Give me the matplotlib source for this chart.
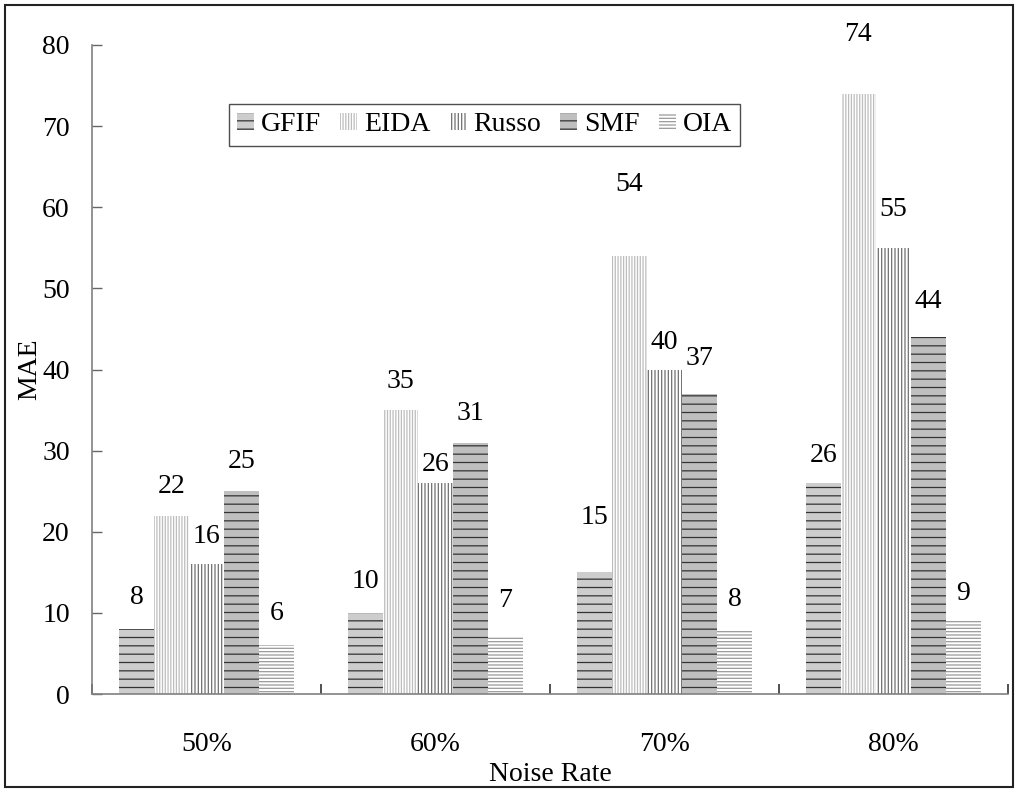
import matplotlib
matplotlib.use("Agg")
import matplotlib.pyplot as plt
import numpy as np
from matplotlib.patches import Rectangle

categories = ["50%", "60%", "70%", "80%"]
methods = ["GFIF", "EIDA", "Russo", "SMF", "OIA"]
GFIF = [8, 10, 15, 26]
EIDA = [22, 35, 54, 74]
Russo = [16, 26, 40, 55]
SMF = [25, 31, 37, 44]
OIA = [6, 7, 8, 9]
series = [GFIF, EIDA, Russo, SMF, OIA]

# extra vertical offset (points) of each value label, as placed in the original
label_lift = [
    [2, 2, 19, -1],
    [0, 0, 31, 22],
    [-1, -7, -1, 7],
    [1, 0, 5, 5],
    [2, 6, 1, -1],
]

styles = [
    dict(facecolor="#cdcdcd", edgecolor="#333333", hatch="--"),
    dict(facecolor="white", edgecolor="#bdbdbd", hatch="||||||"),
    dict(facecolor="white", edgecolor="#707070", hatch="|||||"),
    dict(facecolor="#bfbfbf", edgecolor="#333333", hatch="--"),
    dict(facecolor="white", edgecolor="#9a9a9a", hatch="-----"),
]

FS = 20
plt.rcParams["font.family"] = ["Liberation Serif", "DejaVu Serif"]
plt.rcParams["hatch.linewidth"] = 0.9

fig = plt.figure(figsize=(10.18, 7.92), dpi=100)
ax = fig.add_axes([0.0904, 0.1237, 0.8996, 0.8195])

x = np.arange(len(categories))
bw = 0.153
for i, (name, vals, st) in enumerate(zip(methods, series, styles)):
    pos = x + (i - 2) * bw
    ax.bar(pos, vals, width=bw, linewidth=0, label=name, **st)
    for p, v, lift in zip(pos, vals, label_lift[i]):
        ax.annotate(str(v), (p, v), xytext=(0, 16 + lift), textcoords="offset points",
                    ha="center", va="baseline", fontsize=FS, annotation_clip=False)

ax.set_xlim(-0.5, len(categories) - 0.5)
ax.set_ylim(0, 80)
ax.set_yticks(np.arange(0, 81, 10))
ax.set_xticks(x)
ax.set_xticklabels(categories, fontsize=FS)
ax.set_xticks(np.arange(-0.5, len(categories), 1), minor=True)
ax.tick_params(axis="x", which="major", length=0, pad=27)
ax.tick_params(axis="x", which="minor", direction="in", length=7, width=1.2, color="#333333")
ax.tick_params(axis="y", direction="in", length=7, width=1, color="#666666", labelsize=FS, pad=16)
for s in ["top", "right"]:
    ax.spines[s].set_visible(False)
for s in ["left", "bottom"]:
    ax.spines[s].set_color("#808080")
    ax.spines[s].set_linewidth(1.2)

ax.set_ylabel("MAE", fontsize=FS)
ax.yaxis.set_label_coords(-0.0546, 0.5)
ax.set_xlabel("Noise Rate", fontsize=FS, labelpad=4)

leg = ax.legend(loc="center", bbox_to_anchor=(0.4285, 0.877), ncol=5, fontsize=FS,
                frameon=True, fancybox=False, shadow=False, handlelength=0.6,
                handleheight=0.6, handletextpad=0.25, columnspacing=0.7,
                borderpad=0.3, borderaxespad=0, edgecolor="#222222")
leg.get_frame().set_linewidth(1.0)

fig.patches.append(Rectangle((0.005, 0.006), 0.99, 0.988, transform=fig.transFigure,
                             fill=False, edgecolor="#222222", linewidth=1.5))

fig.savefig("out.png", dpi=100)
